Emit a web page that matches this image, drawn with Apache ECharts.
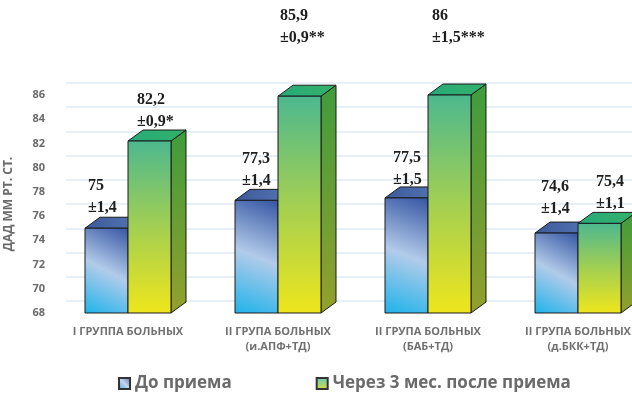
<!DOCTYPE html>
<html>
<head>
<meta charset="utf-8">
<script src="https://cdn.jsdelivr.net/npm/echarts@6/dist/echarts.min.js"></script>
<style>
  html, body { margin: 0; padding: 0; background: #fff; }
  #chart { width: 632px; height: 393px; }
</style>
</head>
<body>
<div id="chart"></div>
<script>
// data
var categories = [
  "I ГРУППА БОЛЬНЫХ",
  "II ГРУПА БОЛЬНЫХ\n(и.АПФ+ТД)",
  "II ГРУПА БОЛЬНЫХ\n(БАБ+ТД)",
  "II ГРУПА БОЛЬНЫХ\n(д.БКК+ТД)"
];
var beforeValues = [75, 77.3, 77.5, 74.6];
var beforeSd = ["±1,4", "±1,4", "±1,5", "±1,4"];
var afterValues = [82.2, 85.9, 86, 75.4];
var afterSd = ["±0,9*", "±0,9**", "±1,5***", "±1,1"];
var seriesNames = ["До приема", "Через 3 мес. после приема"];

// label placement (px, relative to front top-left of each bar)
var beforeLabelDx = [3, 7, 8, 6];
var beforeLabelDy = [-42, -42, -40, -46];
var afterLabelDx = [9, 2, 4, 18];
var afterLabelDy = [-41, -80, -79, -42];

var yMin = 68, yMax = 86;
var barW = 43, depthX = 15, depthY = 11;

var G = echarts.graphic;

var skins = [
  {
    front: new G.LinearGradient(0, 1, 1, 0, [
      { offset: 0, color: "#1db3ea" },
      { offset: 0.5, color: "#b2cbea" },
      { offset: 1, color: "#3454a2" }
    ]),
    top: new G.LinearGradient(0, 0, 1, 0, [
      { offset: 0, color: "#3c5a9a" },
      { offset: 1, color: "#5676b4" }
    ]),
    side: "#2e4d8e",
    legend: new G.LinearGradient(0, 1, 1, 0, [
      { offset: 0, color: "#3aa8e0" },
      { offset: 0.5, color: "#c4d6ee" },
      { offset: 1, color: "#4a68b0" }
    ])
  },
  {
    front: new G.LinearGradient(0, 0, 0, 1, [
      { offset: 0, color: "#4cb88f" },
      { offset: 0.5, color: "#a3cf52" },
      { offset: 1, color: "#efe61c" }
    ]),
    top: new G.LinearGradient(0, 0, 1, 0, [
      { offset: 0, color: "#26ab7a" },
      { offset: 1, color: "#34b06a" }
    ]),
    side: new G.LinearGradient(0, 0, 0, 1, [
      { offset: 0, color: "#3e9c3c" },
      { offset: 1, color: "#94a02c" }
    ]),
    legend: new G.LinearGradient(0, 0, 0, 1, [
      { offset: 0, color: "#62c6c0" },
      { offset: 1, color: "#d8e040" }
    ])
  }
];

var sdLists = [beforeSd, afterSd];
var dxLists = [beforeLabelDx, afterLabelDx];
var dyLists = [beforeLabelDy, afterLabelDy];

function fmt(v) {
  return String(v).replace(".", ",");
}

function makeRender(k) {
  var skin = skins[k];
  return function (params, api) {
    var i = params.dataIndex;
    var v = api.value(1);
    var top = api.coord([api.value(0), v]);
    var base = api.coord([api.value(0), yMin]);
    var x0 = k === 0 ? top[0] - barW : top[0];
    var yt = top[1], yb = base[1];
    var stroke = { stroke: "#1b1b1b", lineWidth: 1 };
    return {
      type: "group",
      children: [
        {
          type: "polygon",
          shape: { points: [[x0 + barW, yt], [x0 + barW + depthX, yt - depthY], [x0 + barW + depthX, yb - depthY], [x0 + barW, yb]] },
          style: Object.assign({ fill: skin.side }, stroke)
        },
        {
          type: "polygon",
          shape: { points: [[x0, yt], [x0 + depthX, yt - depthY], [x0 + barW + depthX, yt - depthY], [x0 + barW, yt]] },
          style: Object.assign({ fill: skin.top }, stroke)
        },
        {
          type: "rect",
          shape: { x: x0, y: yt, width: barW, height: yb - yt },
          style: Object.assign({ fill: skin.front }, stroke)
        },
        {
          type: "text",
          x: x0 + dxLists[k][i],
          y: yt + dyLists[k][i] - 11,
          style: {
            text: fmt(v) + "\n" + sdLists[k][i],
            fill: "#1e1e1e",
            font: 'bold 16px "Liberation Serif"',
            lineHeight: 22,
            align: "left",
            verticalAlign: "top"
          }
        }
      ]
    };
  };
}

var chart = echarts.init(document.getElementById("chart"));

var option = {
  backgroundColor: "#ffffff",
  animation: false,
  legend: {
    left: 113,
    top: 370,
    itemWidth: 11,
    itemHeight: 11,
    itemGap: 84,
    icon: "rect",
    textStyle: { color: "#6a6a6a", fontSize: 17, fontWeight: "bold", fontFamily: "Open Sans" },
    data: seriesNames
  },
  grid: [
    { left: 53, right: -21, top: 95, bottom: 80, outerBoundsMode: "none" },
    { left: 66, right: -36, top: 83, bottom: 92, outerBoundsMode: "none" }
  ],
  xAxis: [
    {
      type: "category",
      gridIndex: 0,
      data: categories,
      axisLine: { show: false },
      axisTick: { show: false },
      axisLabel: {
        color: "#707070",
        fontSize: 11,
        fontWeight: "bold",
        fontFamily: "Open Sans",
        lineHeight: 15,
        margin: 11,
        interval: 0
      }
    },
    {
      type: "category",
      gridIndex: 1,
      data: categories,
      show: false
    }
  ],
  yAxis: [
    {
      type: "value",
      gridIndex: 0,
      min: yMin,
      max: yMax,
      interval: 2,
      name: "ДАД ММ РТ. СТ.",
      nameLocation: "middle",
      nameRotate: 90,
      nameGap: 38,
      nameTextStyle: { color: "#6a6a6a", fontSize: 12, fontWeight: "bold", fontFamily: "Open Sans" },
      axisLine: { show: false },
      axisTick: { show: false },
      splitLine: { show: false },
      axisLabel: { color: "#6a6a6a", fontSize: 11, fontWeight: "bold", fontFamily: "Open Sans", margin: 8 }
    },
    {
      type: "value",
      gridIndex: 1,
      min: yMin,
      max: yMax,
      interval: 2,
      axisLine: { show: false },
      axisTick: { show: false },
      axisLabel: { show: false },
      splitLine: { show: true, lineStyle: { color: "#e8eff7", width: 2 } }
    }
  ],
  series: [
    {
      name: seriesNames[0],
      type: "custom",
      xAxisIndex: 0,
      yAxisIndex: 0,
      renderItem: makeRender(0),
      itemStyle: { color: skins[0].legend, borderColor: "#333", borderWidth: 1 },
      encode: { x: 0, y: 1 },
      data: categories.map(function (c, i) { return [i, beforeValues[i]]; }),
      z: 2
    },
    {
      name: seriesNames[1],
      type: "custom",
      xAxisIndex: 0,
      yAxisIndex: 0,
      renderItem: makeRender(1),
      itemStyle: { color: skins[1].legend, borderColor: "#333", borderWidth: 1 },
      encode: { x: 0, y: 1 },
      data: categories.map(function (c, i) { return [i, afterValues[i]]; }),
      z: 3
    }
  ]
};

chart.setOption(option);
</script>
</body>
</html>
